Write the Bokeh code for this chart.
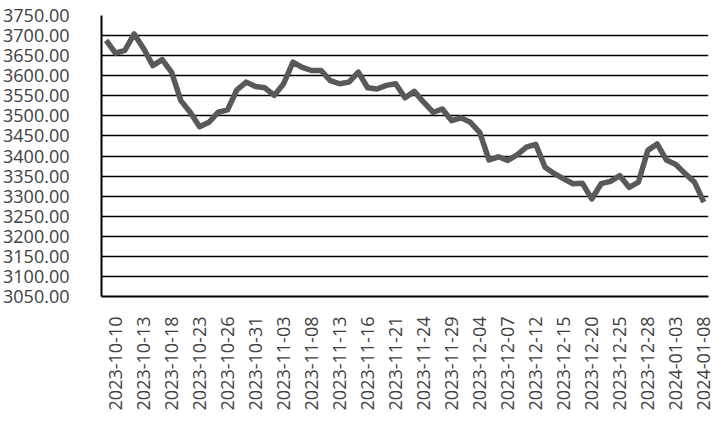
from bokeh.plotting import figure
from bokeh.models import FixedTicker, Range1d, PrintfTickFormatter, ColumnDataSource
from bokeh.embed import file_html
from bokeh.resources import INLINE
import math

dates = [
    "2023-10-09", "2023-10-10", "2023-10-11", "2023-10-12", "2023-10-13",
    "2023-10-16", "2023-10-17", "2023-10-18", "2023-10-19", "2023-10-20",
    "2023-10-23", "2023-10-24", "2023-10-25", "2023-10-26", "2023-10-27",
    "2023-10-30", "2023-10-31", "2023-11-01", "2023-11-02", "2023-11-03",
    "2023-11-06", "2023-11-07", "2023-11-08", "2023-11-09", "2023-11-10",
    "2023-11-13", "2023-11-14", "2023-11-15", "2023-11-16", "2023-11-17",
    "2023-11-20", "2023-11-21", "2023-11-22", "2023-11-23", "2023-11-24",
    "2023-11-27", "2023-11-28", "2023-11-29", "2023-11-30", "2023-12-01",
    "2023-12-04", "2023-12-05", "2023-12-06", "2023-12-07", "2023-12-08",
    "2023-12-11", "2023-12-12", "2023-12-13", "2023-12-14", "2023-12-15",
    "2023-12-18", "2023-12-19", "2023-12-20", "2023-12-21", "2023-12-22",
    "2023-12-25", "2023-12-26", "2023-12-27", "2023-12-28", "2023-12-29",
    "2024-01-02", "2024-01-03", "2024-01-04", "2024-01-05", "2024-01-08",
]

values = [
    3688, 3656, 3663, 3704, 3668,
    3625, 3640, 3609, 3538, 3509,
    3473, 3484, 3509, 3515, 3565,
    3584, 3573, 3570, 3551, 3580,
    3634, 3621, 3613, 3613, 3588,
    3580, 3584, 3609, 3570, 3567,
    3576, 3580, 3545, 3561, 3534,
    3509, 3517, 3488, 3495, 3484,
    3459, 3390, 3398, 3389, 3403,
    3422, 3429, 3372, 3356, 3343,
    3331, 3332, 3293, 3331, 3337,
    3351, 3322, 3335, 3414, 3430,
    3390, 3379, 3356, 3335, 3285,
]

tick_labels = [
    "2023-10-10", "2023-10-13", "2023-10-18", "2023-10-23", "2023-10-26",
    "2023-10-31", "2023-11-03", "2023-11-08", "2023-11-13", "2023-11-16",
    "2023-11-21", "2023-11-24", "2023-11-29", "2023-12-04", "2023-12-07",
    "2023-12-12", "2023-12-15", "2023-12-20", "2023-12-25", "2023-12-28",
    "2024-01-03", "2024-01-08",
]

y_ticks = [3050, 3100, 3150, 3200, 3250, 3300, 3350, 3400, 3450, 3500,
           3550, 3600, 3650, 3700, 3750]

FONT = "Open Sans"

xs = list(range(len(dates)))
src = ColumnDataSource(data=dict(x=xs, y=values, d=dates))

p = figure(width=723, height=427, output_backend="svg", toolbar_location=None,
           x_range=Range1d(-0.5, len(dates) - 0.5), y_range=Range1d(3050, 3750))
p.min_border_left = 101
p.min_border_right = 15
p.min_border_top = 15
p.min_border_bottom = 131
p.outline_line_color = None
p.background_fill_color = "white"
p.border_fill_color = "white"

p.line("x", "y", source=src, line_color="#595959", line_width=5.5, line_join="round")

tick_idx = [dates.index(t) for t in tick_labels]
p.xaxis.ticker = FixedTicker(ticks=tick_idx)
p.xaxis.major_label_overrides = {i: t for i, t in zip(tick_idx, tick_labels)}
p.xaxis.major_label_orientation = math.pi / 2
p.xaxis.major_tick_line_color = None
p.xaxis.minor_tick_line_color = None
p.xaxis.major_label_standoff = 14
p.xaxis.axis_line_color = "black"
p.xaxis.axis_line_width = 2
p.xaxis.major_label_text_font = FONT
p.xaxis.major_label_text_font_size = "18px"
p.xaxis.major_label_text_color = "#404040"

p.yaxis.ticker = FixedTicker(ticks=y_ticks)
p.yaxis.formatter = PrintfTickFormatter(format="%.2f")
p.yaxis.major_tick_line_color = None
p.yaxis.minor_tick_line_color = None
p.yaxis.major_label_standoff = 26
p.yaxis.axis_line_color = "black"
p.yaxis.axis_line_width = 2
p.yaxis.major_label_text_font = FONT
p.yaxis.major_label_text_font_size = "18px"
p.yaxis.major_label_text_color = "#404040"

p.xgrid.grid_line_color = None
p.ygrid.ticker = FixedTicker(ticks=y_ticks)
p.ygrid.grid_line_color = "black"
p.ygrid.grid_line_width = 1.4

open("out.html", "w").write(file_html(p, INLINE))
